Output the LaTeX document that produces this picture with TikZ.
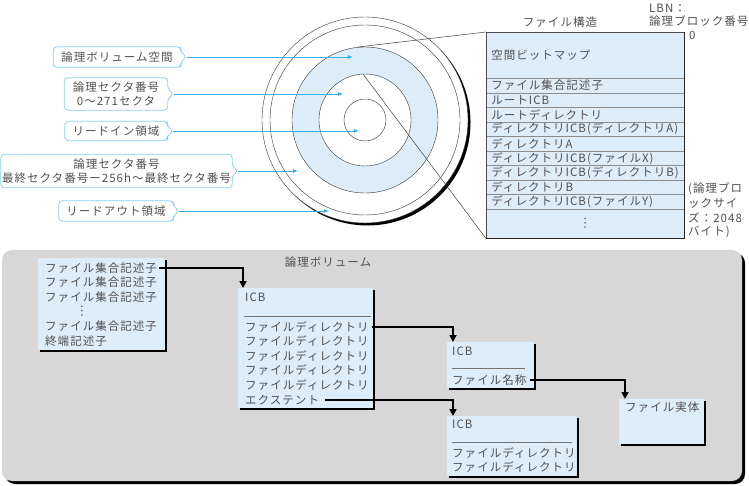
\documentclass[tikz,border=0pt]{standalone}
\usepackage{fontspec}
\setmainfont[LetterSpace=9]{Noto Sans CJK JP}
\usetikzlibrary{arrows.meta,shadows}

\definecolor{pale}{HTML}{DDEDFA}
\definecolor{panel}{HTML}{D7D7D7}
\definecolor{sky}{HTML}{2FB2E6}
\definecolor{skyline}{HTML}{84D2F0}
\definecolor{ink}{HTML}{505050}

\tikzset{
  txt/.style={font=\fontsize{11.5}{14}\selectfont, text=ink, inner sep=0pt},
  lbl/.style={txt, anchor=west},
  vdot/.style={txt, rotate=90},
  bubble/.style={txt, align=center},
  bubbleline/.style={draw=skyline, line width=0.8pt, rounded corners=3.5pt},
  skyarrow/.style={draw=sky, line width=0.8pt, -{Latex[length=5pt,width=4pt]}},
  thinline/.style={draw=black!75, line width=0.5pt},
  tabrow/.style={txt, anchor=north west, draw=black!45, fill=pale, line width=0.5pt,
    minimum width=198pt, text width=188pt, inner xsep=5pt, minimum height=14.55pt, align=left},
  vbox/.style={anchor=north west, fill=pale, inner sep=0pt,
    drop shadow={shadow xshift=2pt, shadow yshift=-2pt, fill=black, opacity=1}},
  blkarrow/.style={draw=black, line width=1.6pt, -{Triangle[length=7pt,width=7pt]}},
  sepline/.style={draw=black!55, line width=0.5pt}
}

\begin{document}
\begin{tikzpicture}[x=1pt,y=-1pt]
\useasboundingbox (0,0) rectangle (749,486);

% disk
\fill[black] (367.5,122.5) circle (103);
\filldraw[fill=white, draw=black!80, line width=0.4pt] (365,120) circle (103);
\draw[black!80, line width=0.4pt] (365,120) circle (95);
\filldraw[fill=pale, draw=black!80, line width=0.4pt] (365,120) circle (73);
\filldraw[fill=white, draw=black!80, line width=0.4pt] (365,120) circle (46);
\draw[black!80, line width=0.4pt] (365,120) circle (21);

% callouts
\node[bubble, minimum width=127pt, minimum height=20pt] (cvol) at (117,57) {論理ボリューム空間};
\node[bubble, minimum width=103pt, minimum height=32pt] (csec) at (116,94) {論理セクタ番号\\0～271セクタ};
\node[bubble, minimum width=102pt, minimum height=19pt] (cin) at (116,131) {リードイン領域};
\node[bubble, minimum width=231pt, minimum height=33pt] (clast) at (116.5,171) {論理セクタ番号\\最終セクタ番号ー256h～最終セクタ番号};
\node[bubble, minimum width=114pt, minimum height=20pt] (cout) at (116,211) {リードアウト領域};
\foreach \n in {cvol,csec,cin,clast,cout}
  \draw[bubbleline] ([xshift=6pt]\n.east) -- ([yshift=5pt]\n.east) -- (\n.north east)
    -- (\n.north west) -- (\n.south west) -- (\n.south east) -- ([yshift=-5pt]\n.east) -- cycle;

\coordinate (pvol) at (353,57);
\coordinate (psec) at (343,94);
\coordinate (pin) at (359,131);
\coordinate (plast) at (298,171);
\coordinate (pout) at (329,211);
\draw[skyarrow] ([xshift=6pt]cvol.east) -- (pvol);
\draw[skyarrow] ([xshift=6pt]csec.east) -- (psec);
\draw[skyarrow] ([xshift=6pt]cin.east) -- (pin);
\draw[skyarrow] ([xshift=6pt]clast.east) -- (plast);
\draw[skyarrow] ([xshift=6pt]cout.east) -- (pout);

% file structure table
\node[tabrow, minimum height=46pt] (bmp) at (486,32) {空間ビットマップ};
\foreach \t [count=\i] in {ファイル集合記述子, ルートICB, ルートディレクトリ,
    ディレクトリICB(ディレクトリA), ディレクトリA, ディレクトリICB(ファイルX),
    ディレクトリICB(ディレクトリB), ディレクトリB, ディレクトリICB(ファイルY)}
  \node[tabrow] (r\i) at (486,{78+14.55*(\i-1)}) {\t};
\node[tabrow, minimum height=29pt] (dots) at (486,209) {};
\node[vdot] (tabdots) at (dots.center) {…};
\draw[black!70, line width=0.6pt] (bmp.north west) rectangle (dots.south east);
\draw[black!85, line width=1.2pt] (bmp.north east) -- (dots.south east) -- (dots.south west);

\coordinate (rimtop) at (358,47);
\coordinate (rimmid) at (363,74);
\draw[thinline] (rimtop) -- (bmp.north west);
\draw[thinline] (rimmid) -- (dots.south west);

\node[txt] (ttl) at (560,22) {ファイル構造};
\node[lbl] (lbn) at (649,8) {LBN：};
\node[lbl] (lbnj) at (649,21) {論理ブロック番号};
\node[lbl] (zero) at (689,35) {0};
\node[lbl] (bs1) at (688,189) {(論理ブロ};
\node[lbl] (bs2) at (688,203) {ックサイ};
\node[lbl] (bs3) at (688,218) {ズ：2048};
\node[lbl] (bs4) at (688,232) {バイト)};

% logical volume
\fill[black, rounded corners=10pt] (5,253) rectangle (745,484);
\fill[panel, rounded corners=10pt] (2,250) rectangle (742,481);
\node[txt] (lv) at (328,262) {論理ボリューム};

\node[vbox, minimum width=127pt, minimum height=92pt] (fsdbox) at (38,258) {};
\node[lbl] (fs1) at (45,268) {ファイル集合記述子};
\node[lbl] (fs2) at (45,282) {ファイル集合記述子};
\node[lbl] (fs3) at (45,297) {ファイル集合記述子};
\node[vdot] (fsdots) at (82,311.5) {…};
\node[lbl] (fs4) at (45,326) {ファイル集合記述子};
\node[lbl] (term) at (45,341) {終端記述子};

\node[vbox, minimum width=135pt, minimum height=120pt] (rootbox) at (238,288) {};
\node[lbl] (icbroot) at (245,297) {ICB};
\draw[sepline] (244,316) -- (371,316);
\foreach \i in {1,...,5}
  \node[lbl] (fd\i) at (245,{327+14.5*(\i-1)}) {ファイルディレクトリ};
\node[lbl] (ext) at (245,400) {エクステント};

\node[vbox, minimum width=87pt, minimum height=46pt] (filebox) at (447,342) {};
\node[lbl] (icbfile) at (452,351) {ICB};
\draw[sepline] (452,368) -- (525,368);
\node[lbl] (fname) at (452,380) {ファイル名称};

\node[vbox, minimum width=85pt, minimum height=45pt] (bodybox) at (619,399) {};
\node[lbl] (body) at (625,407) {ファイル実体};

\node[vbox, minimum width=130pt, minimum height=60pt] (dirbox) at (447,416) {};
\node[lbl] (icbdir) at (452,424) {ICB};
\draw[sepline] (452,442) -- (572,442);
\node[lbl] (dfd1) at (452,453) {ファイルディレクトリ};
\node[lbl] (dfd2) at (452,467) {ファイルディレクトリ};

\draw[blkarrow] ([xshift=2pt]fs1.east) -| ([xshift=5pt]rootbox.north west);
\draw[blkarrow] ([xshift=3pt]fd1.east) -| ([xshift=6pt]filebox.north west);
\draw[blkarrow] ([xshift=6pt]ext.east) -| ([xshift=6pt]dirbox.north west);
\draw[blkarrow] ([xshift=3pt]fname.east) -| ([xshift=6pt]bodybox.north west);
\end{tikzpicture}
\end{document}
